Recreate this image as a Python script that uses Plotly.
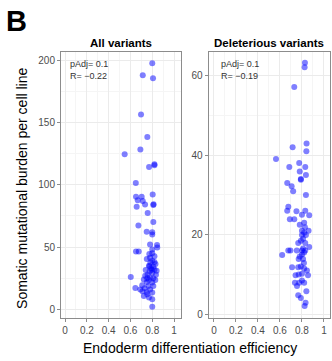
import plotly.graph_objects as go

# All variants panel
all_x = [0.80, 0.713, 0.807, 0.697, 0.755, 0.691, 0.547, 0.771, 0.82, 0.82, 0.649, 0.651, 0.703, 0.667,
         0.713, 0.657, 0.734, 0.81, 0.812, 0.804, 0.758, 0.673, 0.81, 0.749, 0.80, 0.80, 0.78, 0.844,
         0.846, 0.651, 0.676, 0.603, 0.80,
         0.80, 0.773, 0.80, 0.82, 0.78, 0.75, 0.80, 0.783, 0.83, 0.77, 0.81, 0.79, 0.74, 0.82, 0.775,
         0.80, 0.757, 0.834, 0.735, 0.78, 0.81, 0.723, 0.77, 0.828, 0.75, 0.80, 0.708, 0.764, 0.81,
         0.73, 0.69, 0.78, 0.75, 0.80, 0.723, 0.77, 0.80, 0.754, 0.82, 0.775, 0.795, 0.754, 0.84, 0.71,
         0.645]
all_y = [197.8, 188, 185.6, 156.5, 138.4, 128.5, 124.5, 114.4, 115.7, 116.5, 101.5, 90.4, 90.4, 87.7,
         87, 82.4, 84.2, 83.7, 84.5, 92.2, 77.4, 67.4, 70.1, 62.4, 61.8, 60, 52, 51.7,
         49.6, 46.4, 46.4, 26, 2,
         48, 44.5, 45, 42.7, 41.4, 40.5, 39, 37.5, 36.4, 35, 34.2, 33, 31.5, 32, 30.4,
         29.3, 27.7, 27.7, 26.9, 25.6, 25, 24, 23.5, 23.5, 21.9, 21.6, 19.4, 18.7, 18.7,
         16.8, 15.8, 15.8, 13.9, 13.4, 10.7, 9.4, 8, 12, 38, 34.5, 31.5, 25, 31, 14.5,
         17]

# Deleterious variants panel
del_x = [0.827, 0.824, 0.73, 0.842, 0.715, 0.84, 0.564, 0.685, 0.775, 0.83, 0.78, 0.836, 0.79, 0.666,
         0.706, 0.72, 0.79, 0.836, 0.676, 0.666, 0.75, 0.866, 0.69, 0.73, 0.82, 0.827, 0.80, 0.836,
         0.766, 0.83, 0.866, 0.676, 0.695, 0.753, 0.80, 0.83, 0.62, 0.77, 0.81, 0.818, 0.71, 0.766,
         0.845, 0.80, 0.855, 0.742, 0.736, 0.775, 0.82, 0.755, 0.84, 0.766, 0.79, 0.833, 0.824,
         0.81, 0.82, 0.80, 0.81, 0.79, 0.82, 0.80, 0.78, 0.79, 0.82, 0.77, 0.80, 0.83, 0.80, 0.78, 0.86]
del_y = [63.2, 62.1, 57.1, 42.9, 42, 41, 39, 37, 38, 37, 35.9, 35, 34, 33,
         32.2, 30.9, 33.8, 30, 27, 26, 25.9, 24.9, 23.9, 23.9, 23, 21.9, 19.9, 19.9,
         17.9, 17.9, 16.9, 16, 16, 16, 16, 16, 14.9, 13.9, 13.9, 12.9, 11.8, 11.8,
         11, 10.2, 9.8, 9.8, 7.9, 7.9, 7.9, 7.1, 5.8, 4.8, 4.1, 2.9, 2.1,
         16.5, 15.5, 15, 19, 18.5, 20.5, 21, 14.5, 12, 11.5, 10, 8.5, 26, 25, 22.5, 21]

x_ticks = [0, 0.2, 0.4, 0.6, 0.8, 1]
x_tick_text = ["0", "0.2", "0.4", "0.6", "0.8", "1"]
all_y_ticks = [0, 50, 100, 150, 200]
del_y_ticks = [0, 20, 40, 60]
panel_titles = ["All variants", "Deleterious variants"]
stats_all = ["pAdj= 0.1", "R= \u22120.22"]
stats_del = ["pAdj= 0.1", "R= \u22120.19"]

FONT = "Liberation Sans, Arial, sans-serif"
marker = dict(color="rgba(0,0,255,0.5)", size=6, line=dict(width=0))

fig = go.Figure()
fig.add_trace(go.Scatter(x=all_x, y=all_y, mode="markers", marker=marker, xaxis="x", yaxis="y",
                         showlegend=False, hoverinfo="skip"))
fig.add_trace(go.Scatter(x=del_x, y=del_y, mode="markers", marker=marker, xaxis="x2", yaxis="y2",
                         showlegend=False, hoverinfo="skip"))

W, H = 332, 361
dom1 = [61 / W, 180.7 / W]
dom2 = [208.7 / W, 330 / W]
ydom = [1 - 320 / H, 1 - 52 / H]

axis_common = dict(showline=True, linecolor="#8c8c8c", linewidth=1, mirror=True,
                   ticks="outside", ticklen=3, tickcolor="#8c8c8c", tickwidth=1,
                   showgrid=True, gridcolor="#ebebeb", gridwidth=1,
                   minor=dict(showgrid=True, gridcolor="#f5f5f5", gridwidth=0.6),
                   tickfont=dict(family=FONT, size=10, color="#4d4d4d"), zeroline=False)

fig.update_layout(
    width=W, height=H, margin=dict(l=0, r=0, t=0, b=0),
    paper_bgcolor="white", plot_bgcolor="white",
    xaxis=dict(domain=dom1, range=[-0.037, 1.061], tickvals=x_ticks, ticktext=x_tick_text,
               anchor="y", **axis_common),
    yaxis=dict(domain=ydom, range=[-7.2, 207], tickvals=all_y_ticks, anchor="x", **axis_common),
    xaxis2=dict(domain=dom2, range=[-0.048, 1.055], tickvals=x_ticks, ticktext=x_tick_text,
                anchor="y2", **axis_common),
    yaxis2=dict(domain=ydom, range=[-1, 66], tickvals=del_y_ticks, anchor="x2", **axis_common),
)
fig.update_xaxes(minor=dict(tickvals=[0.1, 0.3, 0.5, 0.7, 0.9], showgrid=True))
fig.update_yaxes(minor=dict(dtick=None), selector=dict())
fig.layout.yaxis.minor.tickvals = [25, 75, 125, 175]
fig.layout.yaxis2.minor.tickvals = [10, 30, 50]

ann = []
ann.append(dict(text="<b>B</b>", x=4 / W, y=1 - 3 / H, xref="paper", yref="paper", xanchor="left",
                yanchor="top", showarrow=False, font=dict(family=FONT, size=29, color="black")))
ann.append(dict(text="<b>" + panel_titles[0] + "</b>", x=(dom1[0] + dom1[1]) / 2, y=1 - 43 / H,
                xref="paper", yref="paper", xanchor="center", yanchor="middle", showarrow=False,
                font=dict(family=FONT, size=11.5, color="black")))
ann.append(dict(text="<b>" + panel_titles[1] + "</b>", x=(dom2[0] + dom2[1]) / 2, y=1 - 43 / H,
                xref="paper", yref="paper", xanchor="center", yanchor="middle", showarrow=False,
                font=dict(family=FONT, size=11.5, color="black")))
for i, t in enumerate(stats_all):
    ann.append(dict(text=t, x=68 / W, y=1 - (64 + 12 * i) / H, xref="paper", yref="paper",
                    xanchor="left", yanchor="middle", showarrow=False,
                    font=dict(family=FONT, size=9, color="#333333")))
for i, t in enumerate(stats_del):
    ann.append(dict(text=t, x=219 / W, y=1 - (64 + 12 * i) / H, xref="paper", yref="paper",
                    xanchor="left", yanchor="middle", showarrow=False,
                    font=dict(family=FONT, size=9, color="#333333")))
ann.append(dict(text="Somatic mutational burden per cell line", x=22 / W, y=1 - 190 / H,
                xref="paper", yref="paper", xanchor="center", yanchor="middle", textangle=-90,
                showarrow=False, font=dict(family=FONT, size=14, color="black")))
ann.append(dict(text="Endoderm differentiation efficiency", x=190 / W, y=1 - 350 / H,
                xref="paper", yref="paper", xanchor="center", yanchor="middle",
                showarrow=False, font=dict(family=FONT, size=14, color="black")))
fig.update_layout(annotations=ann)

fig.write_html("out.html")
